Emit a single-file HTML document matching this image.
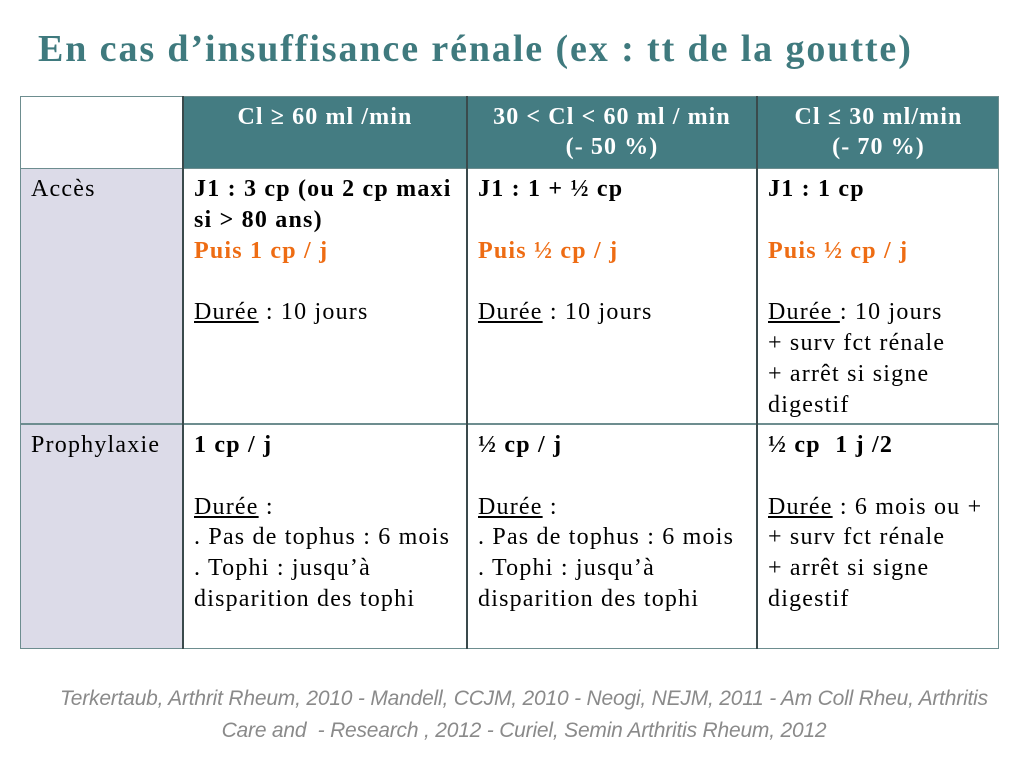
<!DOCTYPE html>
<html><head><meta charset="utf-8"><style>
body{margin:0;width:1024px;height:768px;background:#fff;position:relative;overflow:hidden;font-family:"Liberation Serif",serif}
h1{position:absolute;left:38px;top:27px;margin:0;font-size:38px;letter-spacing:1.9px;font-weight:bold;color:#3f7a7e;font-family:"Liberation Serif",serif;white-space:nowrap}
.b{position:absolute}
.c{position:absolute;font-size:24px;letter-spacing:1.2px;line-height:30.8px;color:#000;white-space:nowrap}
.o{color:#ee6c13;font-weight:bold}
.hd{position:absolute;color:#fff;font-weight:bold;font-size:24px;letter-spacing:1.1px;line-height:30px;text-align:center;white-space:nowrap}
.u{text-decoration:underline}
.ref{position:absolute;width:1024px;text-align:center;font-family:"Liberation Sans",sans-serif;font-style:italic;font-size:21px;color:#8a8a8a;letter-spacing:-0.2px;line-height:32px;white-space:nowrap}
</style></head><body>
<h1>En cas d’insuffisance rénale (ex : tt de la goutte)</h1>
<div class="b" style="left:183px;top:96px;width:816px;height:72px;background:#447c82"></div>
<div class="b" style="left:20px;top:168px;width:163px;height:481px;background:#dcdbe8"></div>
<div class="b" style="left:20px;top:96px;width:977px;height:551px;border:1px solid #6d8d8f"></div>
<div class="b" style="left:20px;top:168px;width:979px;height:1px;background:#6d8d8f"></div>
<div class="b" style="left:20px;top:423px;width:979px;height:2px;background:#6d8d8f"></div>
<div class="b" style="left:182px;top:96px;width:2px;height:553px;background:#3a4a4c"></div>
<div class="b" style="left:466px;top:96px;width:2px;height:553px;background:#3a4a4c"></div>
<div class="b" style="left:756px;top:96px;width:2px;height:553px;background:#3a4a4c"></div>
<div class="hd" style="left:184px;top:102px;width:282px">Cl ≥ 60 ml /min</div>
<div class="hd" style="left:468px;top:102px;width:288px">30 &lt; Cl &lt; 60 ml / min<br>(- 50 %)</div>
<div class="hd" style="left:758px;top:102px;width:241px">Cl ≤ 30 ml/min<br>(- 70 %)</div>
<div class="c" style="left:31px;top:174px">Accès</div>
<div class="c" style="left:31px;top:430px">Prophylaxie</div>
<div class="c" style="left:194px;top:174px"><b>J1 : 3 cp (ou 2 cp maxi<br>si &gt; 80 ans)</b><br><span class="o">Puis 1 cp / j</span><br><br><span class="u">Durée</span> : 10 jours</div>
<div class="c" style="left:478px;top:174px"><b>J1 : 1 + ½ cp</b><br><br><span class="o">Puis ½ cp / j</span><br><br><span class="u">Durée</span> : 10 jours</div>
<div class="c" style="left:768px;top:174px"><b>J1 : 1 cp</b><br><br><span class="o">Puis ½ cp / j</span><br><br><span class="u">Durée </span>: 10 jours<br>+ surv fct rénale<br>+ arrêt si signe<br>digestif</div>
<div class="c" style="left:194px;top:430px"><b>1 cp / j</b><br><br><span class="u">Durée</span> :<br>. Pas de tophus : 6 mois<br>. Tophi : jusqu’à<br>disparition des tophi</div>
<div class="c" style="left:478px;top:430px"><b>½ cp / j</b><br><br><span class="u">Durée</span> :<br>. Pas de tophus : 6 mois<br>. Tophi : jusqu’à<br>disparition des tophi</div>
<div class="c" style="left:768px;top:430px"><b>½ cp &nbsp;1 j /2</b><br><br><span class="u">Durée</span> : 6 mois ou +<br>+ surv fct rénale<br>+ arrêt si signe<br>digestif</div>
<div class="ref" style="left:12px;top:683px">Terkertaub, Arthrit Rheum, 2010 - Mandell, CCJM, 2010 - Neogi, NEJM, 2011 - Am Coll Rheu, Arthritis</div>
<div class="ref" style="left:12px;top:715px">Care and &nbsp;- Research , 2012 - Curiel, Semin Arthritis Rheum, 2012</div>
</body></html>
